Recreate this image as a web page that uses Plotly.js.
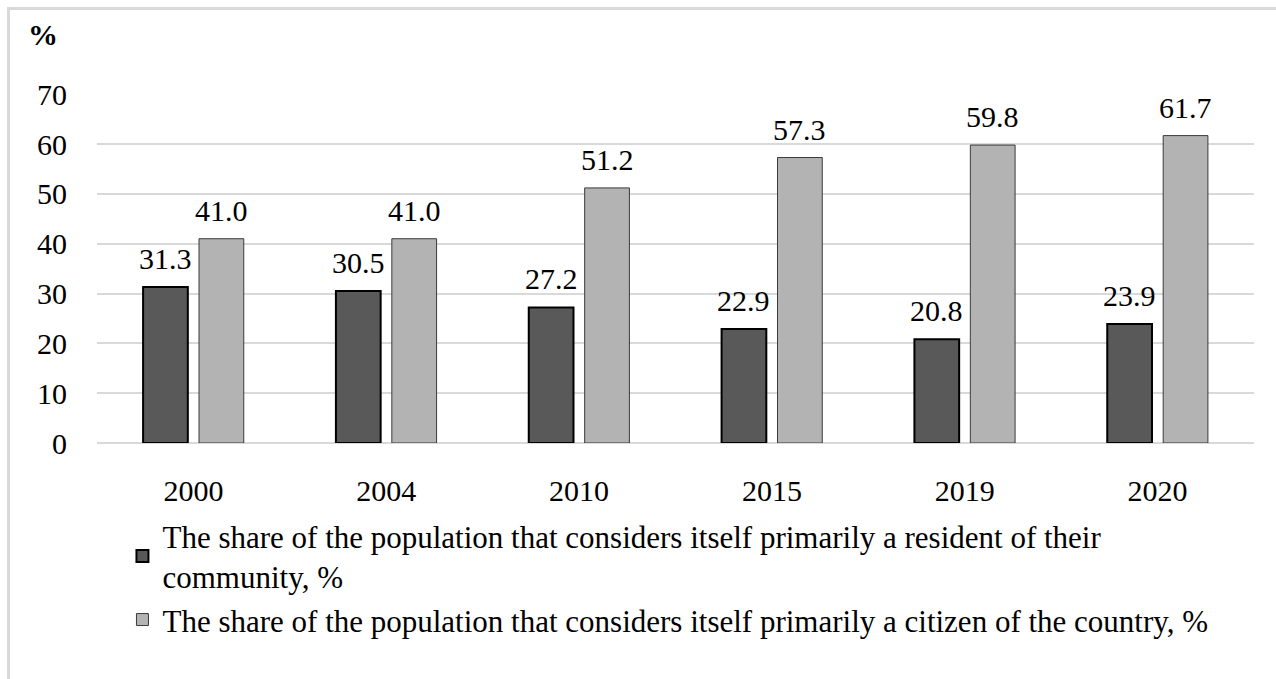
<!DOCTYPE html>
<html>
<head>
<meta charset="utf-8">
<script src="https://cdn.plot.ly/plotly-3.0.1.min.js"></script>
<style>
  html, body { margin: 0; padding: 0; background: #fff; }
  #wrap { position: absolute; left: 7px; top: 7px; border-left: 3px solid #d9d9d9; border-top: 3px solid #d9d9d9; }
  #chart { width: 1266px; height: 669px; }
</style>
</head>
<body>
<div id="wrap"><div id="chart"></div></div>
<script>
const years = ['2000', '2004', '2010', '2015', '2019', '2020'];
const residentShare = [31.3, 30.5, 27.2, 22.9, 20.8, 23.9];
const citizenShare = [41.0, 41.0, 51.2, 57.3, 59.8, 61.7];
const residentName = 'The share of the population that considers itself primarily a resident of their<br>community, %';
const citizenName = 'The share of the population that considers itself primarily a citizen of the country, %';
const yTicks = [0, 10, 20, 30, 40, 50, 60, 70];

const FONT = 'Liberation Serif, Times New Roman, serif';

const traces = [
  {
    type: 'bar', x: years, y: residentShare, name: residentName,
    marker: { color: '#595959', line: { color: '#000000', width: 2 } },
    hoverinfo: 'y'
  },
  {
    type: 'bar', x: years, y: citizenShare, name: citizenName,
    marker: { color: '#b3b3b3', line: { color: '#3a3a3a', width: 1 } },
    hoverinfo: 'y'
  }
];

const annotations = [];
years.forEach((yr, i) => {
  annotations.push({ x: i, y: residentShare[i], text: residentShare[i].toFixed(1), showarrow: false,
    xref: 'x', yref: 'y', xanchor: 'center', yanchor: 'bottom', xshift: -28, yshift: 10,
    font: { family: FONT, size: 30, color: '#000' } });
  annotations.push({ x: i, y: citizenShare[i], text: citizenShare[i].toFixed(1), showarrow: false,
    xref: 'x', yref: 'y', xanchor: 'center', yanchor: 'bottom', xshift: 28, yshift: 10,
    font: { family: FONT, size: 30, color: '#000' } });
});
annotations.push({ x: -0.047, y: 1.17, xref: 'paper', yref: 'paper', xanchor: 'center', yanchor: 'middle',
  text: '<b>%</b>', showarrow: false, font: { family: FONT, size: 30, color: '#000' } });

const layout = {
  width: 1266, height: 669,
  margin: { l: 87, r: 22, t: 84, b: 236 },
  paper_bgcolor: '#ffffff', plot_bgcolor: '#ffffff',
  font: { family: FONT, color: '#000' },
  barmode: 'group', bargap: 0.42, bargroupgap: 0.2,
  showlegend: true,
  legend: {
    x: 0.022, y: -0.19, xanchor: 'left', yanchor: 'top', orientation: 'v',
    font: { family: FONT, size: 31, color: '#000' },
    tracegroupgap: 0, itemwidth: 30, bgcolor: 'rgba(0,0,0,0)'
  },
  xaxis: {
    type: 'category', range: [-0.5, 5.5], autorange: false,
    tickfont: { family: FONT, size: 30, color: '#000' },
    showline: false, showgrid: false, zeroline: false, ticks: '', ticklabelstandoff: 27, fixedrange: true
  },
  yaxis: {
    range: [0, 70.05], autorange: false, tickvals: yTicks, ticktext: yTicks.map(String),
    tickfont: { family: FONT, size: 30, color: '#000' },
    showgrid: true, gridcolor: '#d9d9d9', gridwidth: 2,
    zeroline: true, zerolinecolor: '#d9d9d9', zerolinewidth: 2,
    showline: false, ticks: '', ticklabelstandoff: 29, fixedrange: true
  },
  annotations: annotations
};

Plotly.newPlot('chart', traces, layout, { displayModeBar: false, staticPlot: true });
</script>
</body>
</html>
